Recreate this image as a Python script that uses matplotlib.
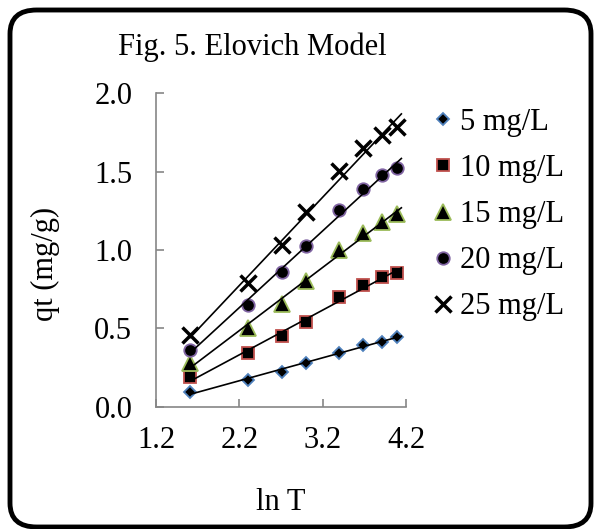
import numpy as np
import matplotlib
matplotlib.use("Agg")
import matplotlib.pyplot as plt
from matplotlib.patches import FancyBboxPatch

plt.rcParams['font.family'] = ['Liberation Serif', 'DejaVu Serif']

t_min = [5, 10, 15, 20, 30, 40, 50, 60]
lnT = np.log(t_min)
q5 = [0.096, 0.17, 0.223, 0.277, 0.345, 0.394, 0.415, 0.447]
q10 = [0.187, 0.34, 0.45, 0.543, 0.70, 0.777, 0.83, 0.851]
q15 = [0.277, 0.50, 0.655, 0.80, 1.0, 1.11, 1.18, 1.23]
q20 = [0.362, 0.649, 0.862, 1.026, 1.255, 1.387, 1.479, 1.521]
q25 = [0.458, 0.79, 1.03, 1.24, 1.506, 1.649, 1.734, 1.787]
labels = ["5 mg/L", "10 mg/L", "15 mg/L", "20 mg/L", "25 mg/L"]

fig = plt.figure(figsize=(5.94, 5.29), dpi=100)
ax = fig.add_axes([0.2626, 0.2312, 0.4209, 0.5924])

styles = [
    dict(marker="D", ms=6.5, mfc="black", mec="#4F81BD", mew=1.3),
    dict(marker="s", ms=8.5, mfc="black", mec="#C0504D", mew=1.3),
    dict(marker="^", ms=11, mfc="black", mec="#9BBB59", mew=1.3),
    dict(marker="o", ms=9, mfc="black", mec="#8064A2", mew=1.3),
    dict(marker="x", ms=12, mec="black", mew=2.5),
]
series = [q5, q10, q15, q20, q25]
handles = []
for q, st, lab in zip(series, styles, labels):
    h, = ax.plot(lnT, q, ls="none", label=lab, **st)
    handles.append(h)
    k, b = np.polyfit(lnT, q, 1)
    xs = np.array([lnT[0], lnT[-1] + 0.05])
    ax.plot(xs, k * xs + b, color="black", lw=1.2)

ax.set_xlim(1.2, 4.2)
ax.set_ylim(0, 2.0)
ax.set_xticks([1.2, 2.2, 3.2, 4.2])
ax.set_yticks([0, 0.5, 1.0, 1.5, 2.0])
ax.set_xticklabels(["1.2", "2.2", "3.2", "4.2"])
ax.set_yticklabels(["0.0", "0.5", "1.0", "1.5", "2.0"])
for s in ["top", "right"]:
    ax.spines[s].set_visible(False)
for s in ["left", "bottom"]:
    ax.spines[s].set_color("#868686")
    ax.spines[s].set_linewidth(1.2)
ax.tick_params(axis="both", direction="in", length=6, width=1.2, color="#868686",
               labelsize=22)
ax.tick_params(axis="y", pad=17)
ax.tick_params(axis="x", pad=14)

fig.legend(handles=handles, loc="upper left",
           bbox_to_anchor=(434 / 594, 1 - 108 / 529),
           frameon=False, fontsize=22, handlelength=0.6, handletextpad=0.25,
           labelspacing=0.56, borderpad=0, borderaxespad=0)

fig.text(252 / 594, 1 - 47 / 529, "Fig. 5. Elovich Model", fontsize=22,
         ha="center", va="center")
fig.text(45 / 594, 1 - 264 / 529, "qt (mg/g)", fontsize=22, rotation=90,
         ha="center", va="center")
fig.text(281 / 594, 1 - 502 / 529, "ln T", fontsize=22, ha="center", va="center")

frame = FancyBboxPatch((10 / 594, 2 / 529), 581 / 594, 517 / 529,
                       boxstyle="round,pad=0,rounding_size=0.045",
                       transform=fig.transFigure, fill=False, ec="black", lw=3.5)
fig.patches.append(frame)

fig.savefig("out.png", dpi=100)
